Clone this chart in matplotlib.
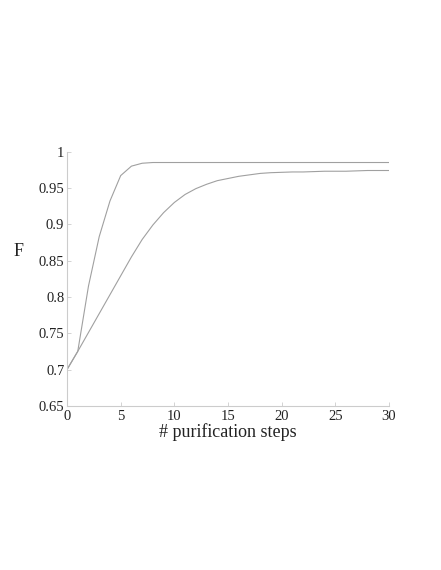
import matplotlib
matplotlib.use("Agg")
import matplotlib.pyplot as plt

# purification steps
steps = list(range(31))

# fast-converging protocol
fast_F = [0.700, 0.725, 0.815, 0.883, 0.932, 0.967, 0.980, 0.984, 0.985, 0.985,
          0.985, 0.985, 0.985, 0.985, 0.985, 0.985, 0.985, 0.985, 0.985, 0.985,
          0.985, 0.985, 0.985, 0.985, 0.985, 0.985, 0.985, 0.985, 0.985, 0.985, 0.985]

# slow-converging protocol
slow_F = [0.700, 0.725, 0.751, 0.777, 0.803, 0.829, 0.855, 0.879, 0.899, 0.916,
          0.930, 0.941, 0.949, 0.955, 0.960, 0.963, 0.966, 0.968, 0.970, 0.971,
          0.9715, 0.972, 0.972, 0.9725, 0.973, 0.973, 0.973, 0.9735, 0.974, 0.974, 0.974]

yticks = [0.65, 0.7, 0.75, 0.8, 0.85, 0.9, 0.95, 1]
yticklabels = ["0.65", "0.7", "0.75", "0.8", "0.85", "0.9", "0.95", "1"]
xticks = [0, 5, 10, 15, 20, 25, 30]

plt.rcParams["font.family"] = ["Liberation Serif", "DejaVu Serif"]

fig = plt.figure(figsize=(4.41, 5.70), dpi=100)
ax = fig.add_axes([0.152, 0.288, 0.730, 0.446])

ax.plot(steps, fast_F, color="#a0a0a0", lw=0.8)
ax.plot(steps, slow_F, color="#a0a0a0", lw=0.8)

ax.set_xlim(0, 30)
ax.set_ylim(0.65, 1)
ax.set_xticks(xticks)
ax.set_yticks(yticks)
ax.set_yticklabels(yticklabels)

#only left and bottom axis, light grey
for s in ["top", "right"]:
    ax.spines[s].set_visible(False)
for s in ["left", "bottom"]:
    ax.spines[s].set_color("#cccccc")
    ax.spines[s].set_linewidth(0.8)

ax.tick_params(direction="in", length=3, width=0.6, color="#cccccc",
               labelsize=10.5, labelcolor="#222222")
ax.tick_params(axis="y", pad=2)
ax.tick_params(axis="x", pad=3)

ax.set_xlabel("# purification steps", fontsize=13, color="#222222", labelpad=0)
ax.set_ylabel("F", fontsize=13, color="#222222", rotation=0)
ax.yaxis.set_label_coords(-0.152, 0.575)

fig.savefig("out.png", dpi=100)
